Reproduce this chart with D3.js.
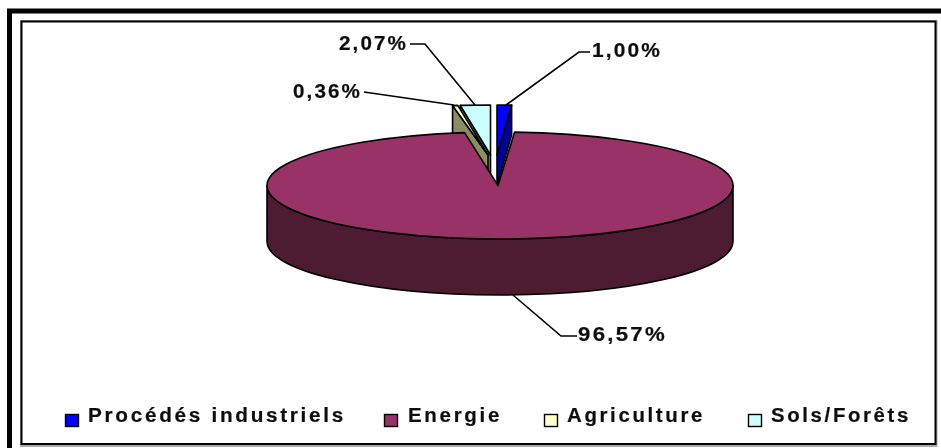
<!DOCTYPE html>
<html><head><meta charset="utf-8">
<script src="https://cdnjs.cloudflare.com/ajax/libs/d3/7.8.5/d3.min.js"></script>
<style>html,body{margin:0;padding:0;background:#fff}svg{display:block}
text{font-family:"Liberation Sans",Arial,sans-serif;font-weight:bold;fill:#111;stroke:#111;stroke-width:.2}</style>
</head><body><svg id="c" width="941" height="448"><defs><filter id="soft" x="-5%" y="-5%" width="110%" height="110%"><feGaussianBlur stdDeviation="0.35"/></filter></defs></svg>
<script>
const categories = ["Procédés industriels","Energie","Agriculture","Sols/Forêts"];
const values = [1.00,96.57,0.36,2.07];
const valueLabels = ["1,00%","96,57%","0,36%","2,07%"];
const topColors = ["#0000ff","#993366","#ffffcc","#ccffff"];
const sideColors = ["#00009a","#4d1a33","#8c8c66","#669999"];

const W=941,H=448;
const root=d3.select("#c");
// frame
root.append("rect").attr("x",9.5).attr("y",11).attr("width",W).attr("height",H).attr("fill","#fff").attr("stroke","#000").attr("stroke-width",5);
root.append("rect").attr("x",21).attr("y",21).attr("width",915.5).attr("height",425).attr("fill","none").attr("stroke","#aaa").attr("stroke-width",2);
root.append("rect").attr("x",21.5).attr("y",21.5).attr("width",914).attr("height",422.5).attr("fill","#fff").attr("stroke","#000").attr("stroke-width",2);
const svg=root.append("g").attr("filter","url(#soft)");

const arcs=d3.pie().sort(null).value(d=>d)(values);
const rx=233, big={ry:53.5,cx:500,cy:185.5,apexX:498,depth:56};
const small={ry:50,depth:30,cy:155};
const centreX=[497,null,488,490.5];

const pt=(c,cy,ry,a)=>[c+rx*Math.sin(a),cy-ry*Math.cos(a)];
const stroke={stroke:"#000","stroke-width":1.6,"stroke-linejoin":"round"};
function draw(d,fill){const p=svg.append("path").attr("d",d).attr("fill",fill);for(const k in stroke)p.attr(k,stroke[k]);return p;}

// exploded small slices
[3,2,0].forEach(i=>{
  const a=arcs[i],cx=centreX[i],cy=small.cy,ry=small.ry,dp=small.depth;
  const s=pt(cx,cy,ry,a.startAngle),e=pt(cx,cy,ry,a.endAngle);
  const wall=a.startAngle<Math.PI?[e,[e[0],e[1]+dp],[cx,cy+dp],[cx,cy]]:[s,[s[0],s[1]+dp],[cx,cy+dp],[cx,cy]];
  draw("M"+wall.map(q=>q.join(",")).join("L")+"Z",sideColors[i]);
  draw(`M${cx},${cy}L${s}A${rx},${ry} 0 0 1 ${e}Z`,topColors[i]);
});

// big slice
const b=arcs[1];
const s=pt(big.cx,big.cy,big.ry,b.startAngle),e=pt(big.cx,big.cy,big.ry,b.endAngle);
const L=[big.cx-rx,big.cy],R=[big.cx+rx,big.cy];
draw(`M${R}A${rx},${big.ry} 0 0 1 ${L}L${L[0]},${L[1]+big.depth}A${rx},${big.ry} 0 0 0 ${R[0]},${R[1]+big.depth}Z`,sideColors[1]);
draw(`M${big.apexX},${big.cy}L${s}A${rx},${big.ry} 0 1 1 ${e}Z`,topColors[1]);

// value labels with leader lines
const leaders=[
 {i:0,pts:[[506,105],[579,52],[590,52]],x:592,y:57,w:70},
 {i:1,pts:[[513,295],[561,336],[577,336]],x:578,y:341,w:89},
 {i:2,pts:[[454,105],[364,92]],x:293,y:98,w:69},
 {i:3,pts:[[475,105],[425,44],[410,44]],x:339,y:50,w:69}
];
const line=d3.line();
leaders.forEach(l=>{
  svg.append("path").attr("d",line(l.pts)).attr("fill","none").attr("stroke","#000").attr("stroke-width",1.6);
  svg.append("text").attr("x",l.x).attr("y",l.y).attr("font-size",19.5).attr("letter-spacing",2).attr("textLength",l.w).attr("lengthAdjust","spacingAndGlyphs").text(valueLabels[l.i]);
});

// legend
const legendBox=[65,384,544,748], legendText=[88,408,567,771], legendW=[258,94,138,140];
categories.forEach((c,i)=>{
  svg.append("rect").attr("x",legendBox[i]+.5).attr("y",414.5).attr("width",13).attr("height",12).attr("fill",topColors[i]).attr("stroke","#000").attr("stroke-width",1.4);
  svg.append("text").attr("x",legendText[i]).attr("y",422).attr("font-size",20).attr("letter-spacing",2.6).attr("textLength",legendW[i]).attr("lengthAdjust","spacingAndGlyphs").text(c);
});
</script></body></html>
